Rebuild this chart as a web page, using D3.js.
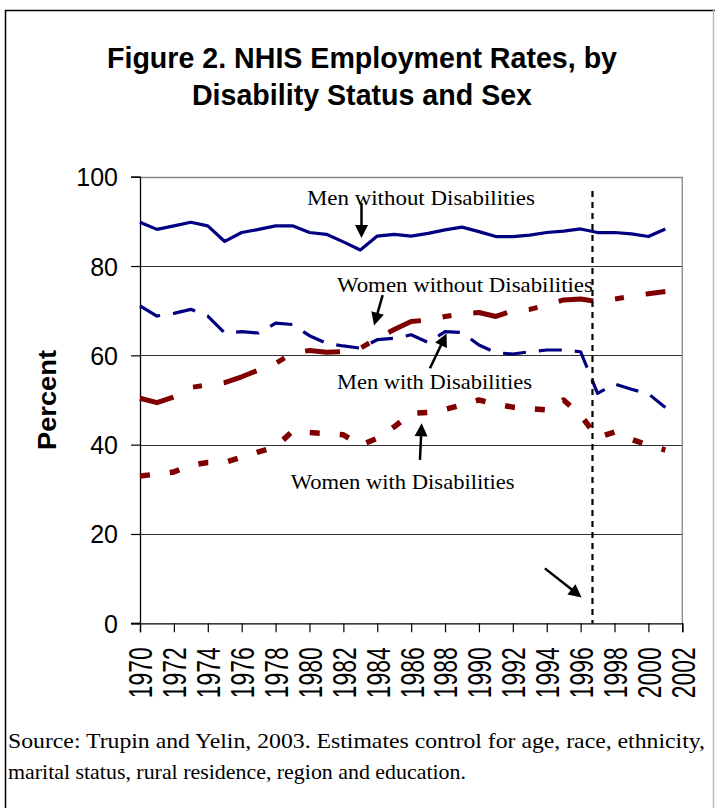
<!DOCTYPE html>
<html><head><meta charset="utf-8">
<script src="https://cdn.jsdelivr.net/npm/d3@7"></script>
<style>body{margin:0;background:#fff}svg{display:block}</style>
</head><body><svg id="c" width="715" height="808"></svg>
<script>
const years = d3.range(1970, 2002);
const menWithout = [89.8,88.2,89.0,89.8,89.0,85.5,87.5,88.2,89.0,89.0,87.5,87.1,85.4,83.6,86.7,87.1,86.7,87.3,88.1,88.7,87.7,86.6,86.6,86.9,87.5,87.8,88.3,87.5,87.5,87.2,86.6,88.3];
const menWith = [71.1,68.8,69.4,70.3,68.8,65.0,65.3,65.0,67.2,66.9,64.4,62.7,62.1,61.6,63.5,63.8,64.6,62.9,65.3,65.1,62.3,60.6,60.3,60.8,61.2,61.2,60.8,51.5,53.6,52.4,51.4,48.3];
const womenWithout = [50.4,49.4,50.7,52.8,53.4,53.9,55.2,56.7,58.2,60.5,61.1,60.7,60.8,61.6,63.8,65.8,67.6,67.9,68.7,69.3,69.6,68.7,70.0,70.3,71.3,72.4,72.6,72.0,72.6,73.2,73.8,74.3];
const womenWith = [33.0,33.4,33.9,35.4,36.0,36.0,37.2,38.4,39.5,43.0,42.7,42.5,42.2,39.9,41.4,44.0,47.0,47.2,47.9,48.9,50.0,49.1,48.4,48.1,47.8,50.0,46.6,41.6,42.8,41.2,39.9,38.8];
const yTicks = [0,20,40,60,80,100];
const xTicks = d3.range(1970, 2003, 2);
const titleLines = ["Figure 2. NHIS Employment Rates, by", "Disability Status and Sex"];
const sourceLines = ["Source: Trupin and Yelin, 2003. Estimates control for age, race, ethnicity,", "marital status, rural residence, region and education."];
const seriesLabels = [
  {text:"Men without Disabilities", x:1979.85, y:93.7, len:228},
  {text:"Women without Disabilities", x:1981.62, y:74.2, len:256},
  {text:"Men with Disabilities", x:1981.62, y:52.5, len:195},
  {text:"Women with Disabilities", x:1978.89, y:30.1, len:224}
];
const arrows = [
  {x1:1983.07,y1:94.1,x2:1983.07,y2:86.3},
  {x1:1984.32,y1:73.5,x2:1983.81,y2:66.7},
  {x1:1987.11,y1:57.1,x2:1988.09,y2:64.9},
  {x1:1986.52,y1:36.6,x2:1986.62,y2:44.8},
  {x1:1993.89,y1:12.3,x2:1996.06,y2:5.8}
];
const breakYear = 1996.7;

const svg = d3.select("#c");
const x = d3.scaleLinear().domain([1970, 2002]).range([140, 682.3]);
const y = d3.scaleLinear().domain([0, 100]).range([623.3, 176.7]);

// outer frame
svg.append("line").attr("x1",5.5).attr("x2",5.5).attr("y1",10).attr("y2",808).attr("stroke","#000").attr("stroke-width",1.5);
svg.append("line").attr("x1",5).attr("x2",715).attr("y1",10.5).attr("y2",10.5).attr("stroke","#000").attr("stroke-width",1.5);
svg.append("line").attr("x1",713.5).attr("x2",713.5).attr("y1",10).attr("y2",808).attr("stroke","#bbb").attr("stroke-width",1.5);

// title
svg.append("g").selectAll("text").data(titleLines).join("text")
  .attr("x",362).attr("y",(d,i)=>68+i*37).attr("text-anchor","middle")
  .attr("font-family","'Liberation Sans', Arial, sans-serif").attr("font-weight","bold").attr("font-size",28.6)
  .text(d=>d);

// gridlines
svg.append("g").selectAll("line").data(yTicks.filter(t=>t>0 && t<100)).join("line")
  .attr("x1",x(1970)).attr("x2",x(2002)).attr("y1",d=>Math.round(y(d))+0.5).attr("y2",d=>Math.round(y(d))+0.5)
  .attr("stroke","#333").attr("stroke-width",1);
// top/right border
svg.append("path").attr("d",`M${x(1970)},${Math.round(y(100))+0.5}H${x(2002)}V${y(0)}`).attr("fill","none").attr("stroke","#888").attr("stroke-width",1.3);

// axes
const yAxis = d3.axisLeft(y).tickValues(yTicks).tickSize(9).tickPadding(13);
const gy = svg.append("g").attr("transform",`translate(${x(1970)},0)`).call(yAxis);
gy.select(".domain").attr("stroke","#000").attr("stroke-width",1.3);
gy.selectAll(".tick line").attr("stroke","#000").attr("stroke-width",1.2);
gy.selectAll(".tick text").attr("font-family","'Liberation Sans', Arial, sans-serif").attr("font-size",25).attr("fill","#000").attr("dy","0.36em");

const xAxis = d3.axisBottom(x).tickValues(xTicks).tickSize(9).tickFormat(d3.format("d"));
const gx = svg.append("g").attr("transform",`translate(0,${y(0)})`).call(xAxis);
gx.select(".domain").attr("stroke","#000").attr("stroke-width",1.3);
gx.selectAll(".tick line").attr("stroke","#000").attr("stroke-width",1.2);
gx.selectAll(".tick text")
  .attr("font-family","'Liberation Sans', Arial, sans-serif").attr("font-size",33).attr("fill","#000")
  .attr("text-anchor","end").attr("transform","rotate(-90)").attr("x",-24).attr("y",0).attr("dy","0.36em")
  .attr("textLength",51).attr("lengthAdjust","spacingAndGlyphs");
// extend x-axis left to the 0 tick
svg.append("line").attr("x1",131).attr("x2",x(1970)).attr("y1",y(0)).attr("y2",y(0)).attr("stroke","#000").attr("stroke-width",1.3);

// y title
svg.append("text").attr("transform",`translate(56,400) rotate(-90)`).attr("text-anchor","middle")
  .attr("font-family","'Liberation Sans', Arial, sans-serif").attr("font-weight","bold").attr("font-size",25)
  .attr("textLength",100).attr("lengthAdjust","spacingAndGlyphs").text("Percent");

// lines
const line = d3.line().x((d,i)=>x(years[i])).y(d=>y(d));
const series = [
  {data:menWithout, color:"#000080", w:3.2, dash:null},
  {data:menWith, color:"#000080", w:3.2, dash:"23,13"},
  {data:womenWithout, color:"#800000", w:5, dash:"35,22,9,22"},
  {data:womenWith, color:"#800000", w:5.5, dash:"10,20"}
];
svg.append("g").selectAll("path").data(series).join("path")
  .attr("d",d=>line(d.data)).attr("fill","none").attr("stroke",d=>d.color).attr("stroke-width",d=>d.w)
  .attr("stroke-dasharray",d=>d.dash).attr("stroke-linejoin","round");

// vertical break line
svg.append("line").attr("x1",x(breakYear)).attr("x2",x(breakYear)).attr("y1",y(96.8)).attr("y2",y(0))
  .attr("stroke","#000").attr("stroke-width",2.2).attr("stroke-dasharray","6,5");

// series labels
svg.append("g").selectAll("text").data(seriesLabels).join("text")
  .attr("x",d=>x(d.x)).attr("y",d=>y(d.y))
  .attr("font-family","'Liberation Serif', 'Times New Roman', serif").attr("font-size",21)
  .attr("textLength",d=>d.len).attr("lengthAdjust","spacingAndGlyphs").text(d=>d.text);

// arrows
const ag = svg.append("g");
arrows.forEach(a=>{
  const x1=x(a.x1), y1=y(a.y1), x2=x(a.x2), y2=y(a.y2);
  const dx=x2-x1, dy=y2-y1, L=Math.hypot(dx,dy), ux=dx/L, uy=dy/L;
  const hl=13, hw=6.5;
  const bx=x2-ux*hl, by=y2-uy*hl;
  ag.append("line").attr("x1",x1).attr("y1",y1).attr("x2",bx+ux*2).attr("y2",by+uy*2).attr("stroke","#000").attr("stroke-width",2.5);
  ag.append("path").attr("d",`M${x2},${y2}L${bx-uy*hw},${by+ux*hw}L${bx+uy*hw},${by-ux*hw}Z`).attr("fill","#000");
});

// source
svg.append("g").selectAll("text").data(sourceLines).join("text")
  .attr("x",8).attr("y",(d,i)=>748+i*31)
  .attr("font-family","'Liberation Serif', 'Times New Roman', serif").attr("font-size",21)
  .attr("textLength",(d,i)=>i===0?697:458).attr("lengthAdjust","spacingAndGlyphs").text(d=>d);
</script></body></html>
